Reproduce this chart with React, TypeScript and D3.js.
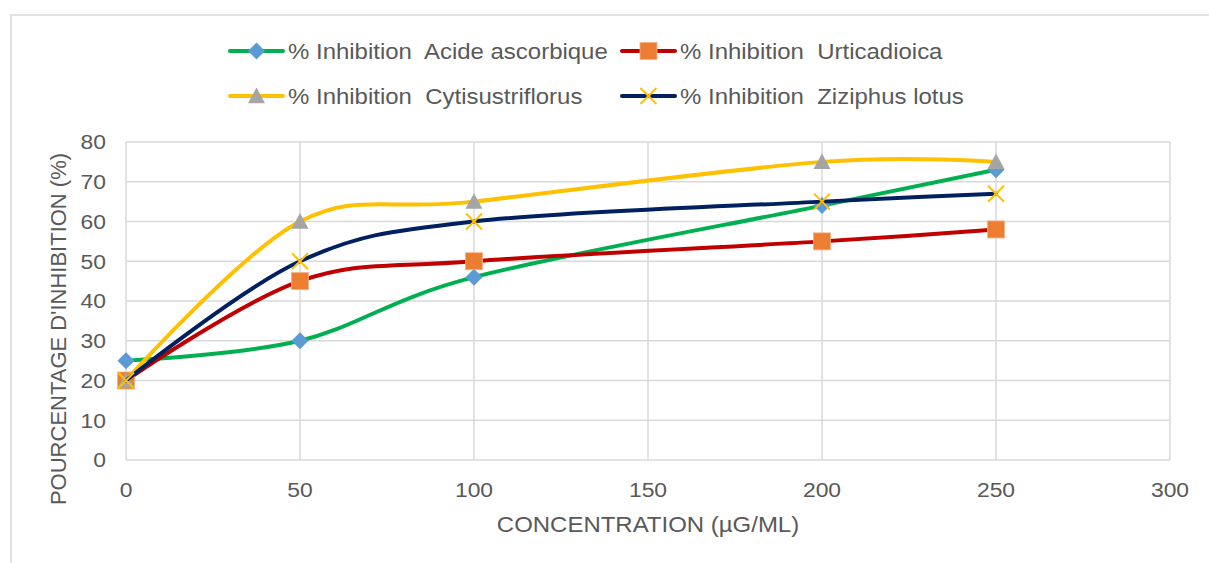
import React from "react";
import * as d3 from "d3";

const concentrations = [0, 50, 100, 200, 250];
const acideAscorbique = [25, 30, 46, 64, 73];
const urticadioica = [20, 45, 50, 55, 58];
const cytisustriflorus = [20, 60, 65, 75, 75];
const ziziphusLotus = [20, 50, 60, 65, 67];
const seriesNames = [
  "% Inhibition  Acide ascorbique",
  "% Inhibition  Urticadioica",
  "% Inhibition  Cytisustriflorus",
  "% Inhibition  Ziziphus lotus",
];
const xTicks = [0, 50, 100, 150, 200, 250, 300];
const yTicks = [0, 10, 20, 30, 40, 50, 60, 70, 80];

const W = 1209;
const H = 563;
const FONT = "'Liberation Sans', Arial, sans-serif";
const TXT = "#595959";
const GRID = "#d9d9d9";
const SX = 1.09;

const series = [
  { name: seriesNames[0], values: acideAscorbique, line: "#00b050", marker: "diamond", mfill: "#5b9bd5" },
  { name: seriesNames[1], values: urticadioica, line: "#c00000", marker: "square", mfill: "#ed7d31" },
  { name: seriesNames[2], values: cytisustriflorus, line: "#ffc000", marker: "triangle", mfill: "#a5a5a5" },
  { name: seriesNames[3], values: ziziphusLotus, line: "#002060", marker: "x", mfill: "#ffc000" },
];

function Marker({ type, x, y, fill }: { type: string; x: number; y: number; fill: string }) {
  if (type === "diamond") {
    const s = 8.5;
    return <path d={`M${x},${y - s}L${x + s},${y}L${x},${y + s}L${x - s},${y}Z`} fill={fill} />;
  }
  if (type === "square") {
    const s = 8.5;
    return <rect x={x - s} y={y - s} width={2 * s} height={2 * s} fill={fill} stroke="#f4b183" strokeWidth={0.8} />;
  }
  if (type === "triangle") {
    const s = 8.5;
    return <path d={`M${x},${y - s}L${x + s},${y + s * 0.85}L${x - s},${y + s * 0.85}Z`} fill={fill} />;
  }
  const s = 8;
  return (
    <path d={`M${x - s},${y - s}L${x + s},${y + s}M${x + s},${y - s}L${x - s},${y + s}`} stroke={fill} strokeWidth={2} fill="none" />
  );
}

function HText({ x, y, anchor, size, children }: { x: number; y: number; anchor: string; size: number; children: React.ReactNode }) {
  return (
    <text
      transform={`translate(${x},${y}) scale(${SX},1)`}
      dy="0.35em"
      textAnchor={anchor}
      fontSize={size}
      fill={TXT}
      style={{ whiteSpace: "pre" }}
    >
      {children}
    </text>
  );
}

export default function App() {
  const x = d3.scaleLinear().domain([0, 300]).range([126, 1170]);
  const y = d3.scaleLinear().domain([0, 80]).range([460, 142]);
  const line = d3
    .line<number>()
    .x((_, i) => x(concentrations[i]))
    .y((v) => y(v))
    .curve(d3.curveCardinal.tension(0));

  const legendPos = [
    { lx: 230, ly: 51 },
    { lx: 622, ly: 51 },
    { lx: 230, ly: 96 },
    { lx: 622, ly: 96 },
  ];

  return (
    <svg width={W} height={H} style={{ position: "absolute", left: 0, top: 0, background: "#fff" }} fontFamily={FONT}>
      <rect x={0} y={0} width={W} height={H} fill="#fff" />
      <path d={`M11,${H + 5}L11,15L${W + 5},15`} fill="none" stroke={GRID} strokeWidth={1.5} />
      {yTicks.map((t) => (
        <line key={"h" + t} x1={x(0)} x2={x(300)} y1={y(t)} y2={y(t)} stroke={GRID} strokeWidth={1.5} />
      ))}
      {xTicks.map((t) => (
        <line key={"v" + t} x1={x(t)} x2={x(t)} y1={y(0)} y2={y(80)} stroke={GRID} strokeWidth={1.5} />
      ))}
      {yTicks.map((t) => (
        <HText key={"yl" + t} x={106} y={y(t)} anchor="end" size={21}>
          {t}
        </HText>
      ))}
      {xTicks.map((t) => (
        <HText key={"xl" + t} x={x(t)} y={490} anchor="middle" size={21}>
          {t}
        </HText>
      ))}
      <HText x={648} y={524} anchor="middle" size={22}>
        CONCENTRATION (µG/ML)
      </HText>
      <text transform={`translate(58,329) rotate(-90)`} dy="0.35em" textAnchor="middle" fontSize={22} fill={TXT}>
        POURCENTAGE D'INHIBITION (%)
      </text>
      {series.map((s) => (
        <g key={s.name}>
          <path d={line(s.values) || ""} fill="none" stroke={s.line} strokeWidth={4} strokeLinecap="round" />
          {s.values.map((v, i) => (
            <Marker key={i} type={s.marker} x={x(concentrations[i])} y={y(v)} fill={s.mfill} />
          ))}
        </g>
      ))}
      {series.map((s, i) => {
        const p = legendPos[i];
        return (
          <g key={"lg" + i}>
            <line x1={p.lx} x2={p.lx + 53} y1={p.ly} y2={p.ly} stroke={s.line} strokeWidth={4} strokeLinecap="round" />
            <Marker type={s.marker} x={p.lx + 26.5} y={p.ly} fill={s.mfill} />
            <HText x={p.lx + 58} y={p.ly} anchor="start" size={22}>
              {s.name}
            </HText>
          </g>
        );
      })}
    </svg>
  );
}
